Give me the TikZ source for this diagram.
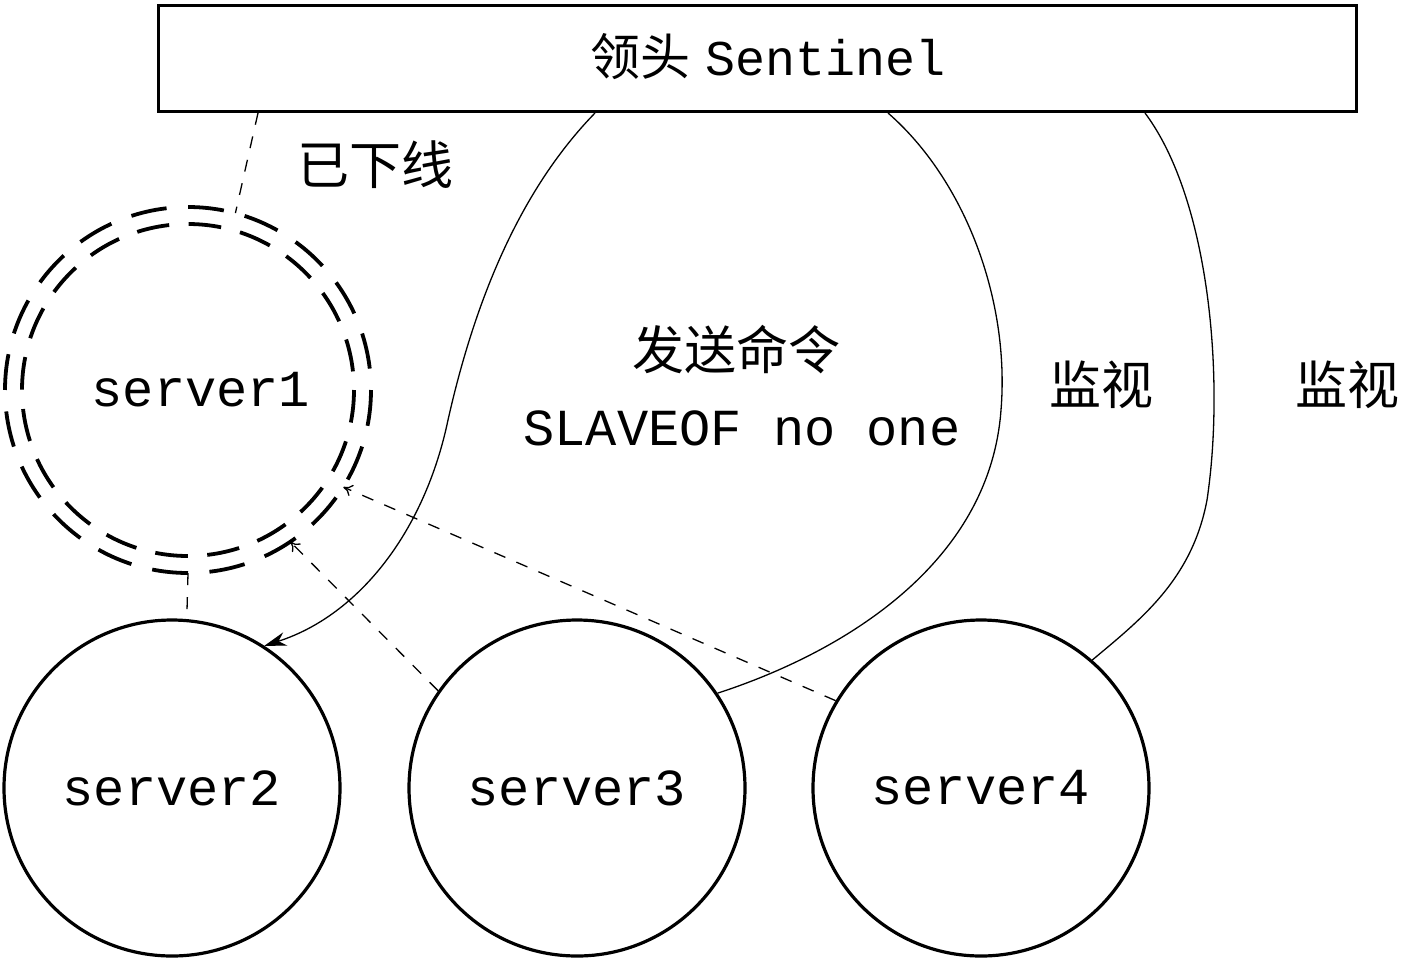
\documentclass[tikz,border=0pt]{standalone}
\usepackage{fontspec}
\setmonofont{Liberation Mono}
\newfontfamily\cjk{Noto Sans CJK SC}
\usetikzlibrary{arrows.meta}
\begin{document}
\begin{tikzpicture}[x=1pt,y=-1pt,
  srv/.style={circle,draw,line width=3.2pt,minimum size=336pt,inner sep=0pt,font=\ttfamily\fontsize{52}{60}\selectfont},
  thin/.style={line width=1.3pt},
  dashthin/.style={line width=1.3pt,dash pattern=on 12pt off 12pt},
  ringout/.style={line width=3.8pt,dash pattern=on 36pt off 21.5pt},
  ringin/.style={line width=3.8pt,dash pattern=on 32.7pt off 19.5pt},
  cjklabel/.style={font=\cjk\fontsize{52}{60}\selectfont}
]
\useasboundingbox (0,0) rectangle (1402,959);
\fill[white] (0,0) rectangle (1402,959);

\node[draw,line width=3.8pt,minimum width=1198pt,minimum height=106pt,inner sep=0pt,
  font=\fontsize{50}{60}\selectfont] (box) at (757.5,58.5) {};
\node[font=\fontsize{50}{60}\selectfont] (boxtext) at (768,57) {{\cjk 领头} \texttt{Sentinel}};

\node[circle,minimum size=366pt,inner sep=0pt] (s1) at (188,390) {};
\draw[ringout] (s1.center) circle[radius=183];
\draw[ringin] (s1.center) circle[radius=166];
\node[font=\ttfamily\fontsize{52}{60}\selectfont] (t1) at (201,390) {server1};

\node[srv] (s2) at (172,788) {server2};
\node[srv] (s3) at (577,788) {server3};
\node[srv] (s4) at (981,788) {server4};

\coordinate (b1) at (258,113);
\coordinate (b2) at (595,113);
\coordinate (b3) at (888,113);
\coordinate (b4) at (1145,113);

\draw[dashthin] (b1) -- (s1.75);
\draw[dashthin] (s1.-90) -- (s2.85);

\draw[thin,-{Stealth[length=22pt,width=14pt]}] (b2) .. controls (520,190) and (475,300) .. (448,420)
  .. controls (425,530) and (360,615) .. (s2.57);
\draw[thin] (b3) .. controls (965,180) and (1010,300) .. (1001,410)
  .. controls (990,560) and (850,650) .. (s3.34);
\draw[thin] (b4) .. controls (1210,200) and (1225,380) .. (1207,500)
  .. controls (1192,580) and (1140,620) .. (s4.49);

\draw[dashthin,-{To[length=9pt,width=12pt]}] (s3.145) -- (s1.-56);
\draw[dashthin,-{To[length=9pt,width=12pt]}] (s4.149) -- (s1.-32);

\node[cjklabel] (l1) at (375,165) {已下线};
\node[cjklabel] (l2) at (736,350) {发送命令};
\node[font=\ttfamily\fontsize{52}{60}\selectfont] (l3) at (742,428) {SLAVEOF no one};
\node[cjklabel] (l4) at (1101,385) {监视};
\node[cjklabel] (l5) at (1347,385) {监视};
\end{tikzpicture}
\end{document}
